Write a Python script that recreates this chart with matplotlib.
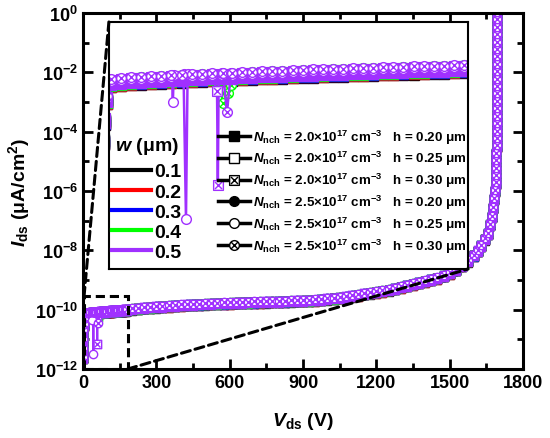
import numpy as np
import matplotlib
matplotlib.use('Agg')
import matplotlib.pyplot as plt
from matplotlib.path import Path
from matplotlib.lines import Line2D
from matplotlib.patches import Rectangle, ConnectionPatch
from matplotlib.ticker import FixedLocator, FixedFormatter, MultipleLocator, NullFormatter

plt.rcParams['font.family'] = ['Liberation Sans', 'DejaVu Sans']
plt.rcParams['font.weight'] = 'bold'
plt.rcParams['axes.labelweight'] = 'bold'
plt.rcParams['mathtext.fontset'] = 'custom'
plt.rcParams['mathtext.rm'] = 'Liberation Sans:bold'
plt.rcParams['mathtext.it'] = 'Liberation Sans:italic:bold'
plt.rcParams['mathtext.bf'] = 'Liberation Sans:bold'
plt.rcParams['mathtext.sf'] = 'Liberation Sans:bold'

# Data: common I-V curve (log10 of Ids in uA/cm^2)
v_rise = [0, 0.5, 1, 1.5, 2, 3]
logi_rise = [-11.6, -11.3, -11.0, -10.7, -10.5, -10.3]

v_low = [5, 10, 15, 20, 25, 30, 35, 40, 45, 50, 55, 60, 65, 70, 75, 80, 85, 90,
         95, 100, 105, 110, 115, 120, 125, 130, 135, 140, 145, 150, 155, 160,
         165, 170, 175, 180]
logi_low = [-10.13, -10.12, -10.11, -10.105, -10.10, -10.095, -10.09, -10.085,
            -10.08, -10.076, -10.072, -10.068, -10.064, -10.06, -10.056, -10.052,
            -10.048, -10.044, -10.04, -10.036, -10.033, -10.03, -10.027, -10.024,
            -10.021, -10.018, -10.015, -10.012, -10.009, -10.006, -10.003, -10.0,
            -9.997, -9.994, -9.991, -9.988]

v_mid = [200, 225, 250, 275, 300, 325, 350, 375, 400, 425, 450, 475, 500, 525,
         550, 575, 600, 625, 650, 675, 700, 725, 750, 775, 800, 825, 850, 875,
         900, 925, 950, 975, 1000, 1025, 1050, 1075, 1100, 1125, 1150, 1175,
         1200, 1225, 1250, 1275, 1300, 1325, 1350, 1375, 1400, 1425, 1450, 1475,
         1500, 1525, 1550, 1575, 1600]
logi_mid = [-9.96, -9.94, -9.92, -9.905, -9.89, -9.875, -9.86, -9.845, -9.83,
            -9.82, -9.81, -9.80, -9.79, -9.78, -9.77, -9.765, -9.76, -9.75, -9.74,
            -9.735, -9.73, -9.725, -9.72, -9.715, -9.71, -9.70, -9.69, -9.685,
            -9.68, -9.67, -9.66, -9.64, -9.62, -9.60, -9.58, -9.55, -9.52, -9.49,
            -9.45, -9.42, -9.39, -9.355, -9.32, -9.27, -9.22, -9.17, -9.12, -9.07,
            -9.02, -8.97, -8.92, -8.84, -8.75, -8.64, -8.50, -8.34, -8.15]

v_bd = [1615, 1630, 1645, 1655, 1665, 1672, 1678, 1683, 1686, 1688, 1689.5,
        1690.5, 1691, 1691.3, 1691.5, 1691.7, 1691.8, 1691.9, 1692, 1692,
        1692.1, 1692.1, 1692.2, 1692.2, 1692.3, 1692.3, 1692.4, 1692.4, 1692.5,
        1692.5, 1692.6, 1692.6, 1692.7]
logi_bd = [-8.0, -7.82, -7.6, -7.42, -7.12, -6.85, -6.55, -6.25, -5.98, -5.72,
           -5.47, -5.22, -4.97, -4.72, -4.47, -4.22, -3.97, -3.72, -3.47, -3.22,
           -2.97, -2.72, -2.47, -2.22, -1.97, -1.72, -1.47, -1.22, -0.97, -0.72,
           -0.47, -0.22, 0.03]

w_labels = ['0.1', '0.2', '0.3', '0.4', '0.5']
w_colors = ['#000000', '#FF0000', '#0000FF', '#00FF00', '#A030FF']
w_shift = [-0.01, -0.005, 0.0, 0.005, 0.01]

combo_labels = [
    r'$N_\mathrm{nch}$ = 2.0×10$^{17}$ cm$^{-3}$   h = 0.20 μm',
    r'$N_\mathrm{nch}$ = 2.0×10$^{17}$ cm$^{-3}$   h = 0.25 μm',
    r'$N_\mathrm{nch}$ = 2.0×10$^{17}$ cm$^{-3}$   h = 0.30 μm',
    r'$N_\mathrm{nch}$ = 2.5×10$^{17}$ cm$^{-3}$   h = 0.20 μm',
    r'$N_\mathrm{nch}$ = 2.5×10$^{17}$ cm$^{-3}$   h = 0.25 μm',
    r'$N_\mathrm{nch}$ = 2.5×10$^{17}$ cm$^{-3}$   h = 0.30 μm',
]
combo_shift = [-0.06, -0.03, -0.01, -0.04, -0.02, 0.0]

# glitches seen in the zoomed view: (combo, w index) -> (V, log10 I)
dips = {
    (4, 4): ([35.3, 35.7, 36.1, 41.0, 42.2, 43.0],
             [-10.08, -10.35, -10.08, -10.07, -11.50, -10.07]),
    (2, 4): ([57.6, 58.0, 58.4], [-10.24, -11.17, -10.08]),
    (5, 4): ([60.5, 62.5, 64.5], [-10.06, -10.44, -10.06]),
    (5, 3): ([58.5, 60.5, 63.0, 64.5, 67.0], [-10.08, -10.36, -10.26, -10.18, -10.07]),
}

# zoom window
zoom_v = (4, 182)
zoom_i = (1e-12, 2.8e-10)

v_base = np.array(v_rise + v_low + v_mid + v_bd, dtype=float)
logi_base = np.array(logi_rise + logi_low + logi_mid + logi_bd)


def marker_path(kind):
    d = 0.7071
    cross = [(-d, -d), (d, d), (-d, d), (d, -d)]
    codes_x = [Path.MOVETO, Path.LINETO, Path.MOVETO, Path.LINETO]
    if kind == 'circ':
        base = Path.unit_circle()
        return Path.make_compound_path(base, Path(cross, codes_x))
    sq = Path([(-1, -1), (1, -1), (1, 1), (-1, 1), (-1, -1)],
              [Path.MOVETO, Path.LINETO, Path.LINETO, Path.LINETO, Path.CLOSEPOLY])
    return Path.make_compound_path(sq, Path(cross, codes_x))


markers = ['s', 's', marker_path('box'), 'o', 'o', marker_path('circ')]
filled = [True, False, False, True, False, False]

fig = plt.figure(figsize=(5.5, 4.39), dpi=100)
ax = fig.add_axes([0.151, 0.157, 0.80, 0.811])
axins = fig.add_axes([0.198, 0.385, 0.653, 0.5626])


def series(ci, wi):
    v = v_base.copy()
    li = logi_base + combo_shift[ci] + w_shift[wi]
    if (ci, wi) in dips:
        dv, dl = dips[(ci, wi)]
        keep = (v < min(dv)) | (v > max(dv))
        v = np.concatenate([v[keep], dv])
        li = np.concatenate([li[keep], dl])
        order = np.argsort(v, kind='stable')
        v, li = v[order], li[order]
    return v, 10.0 ** li


for wi, col in enumerate(w_colors):
    for ci in range(6):
        v, i = series(ci, wi)
        fc = col if filled[ci] else 'white'
        ax.plot(v, i, color=col, lw=1.5, marker=markers[ci], ms=6,
                mfc=fc, mec=col, mew=1.0)
        axins.plot(v, i, color=col, lw=1.8, marker=markers[ci], ms=7,
                   mfc=fc, mec=col, mew=1.0)

# main axes styling
ax.set_yscale('log')
ax.set_xlim(0, 1800)
ax.set_ylim(1e-12, 1e0)
ax.xaxis.set_major_locator(MultipleLocator(300))
ax.xaxis.set_minor_locator(MultipleLocator(150))
yt = [1e-12, 1e-10, 1e-8, 1e-6, 1e-4, 1e-2, 1e0]
ax.yaxis.set_major_locator(FixedLocator(yt))
ax.yaxis.set_major_formatter(FixedFormatter(
    [r'$10^{-12}$', r'$10^{-10}$', r'$10^{-8}$', r'$10^{-6}$', r'$10^{-4}$',
     r'$10^{-2}$', r'$10^{0}$']))
ax.yaxis.set_minor_locator(FixedLocator([1e-11, 1e-9, 1e-7, 1e-5, 1e-3, 1e-1]))
ax.yaxis.set_minor_formatter(NullFormatter())
ax.tick_params(which='both', direction='in', top=True, right=True, width=2,
               labelsize=13)
ax.tick_params(which='major', length=7)
ax.tick_params(which='minor', length=4)
for s in ax.spines.values():
    s.set_linewidth(2.2)
ax.set_xlabel(r'$V_\mathrm{ds}$ (V)', fontsize=14, labelpad=14)
ax.set_ylabel(r'$I_\mathrm{ds}$ (μA/cm$^2$)', fontsize=14, labelpad=2)

# zoom window and connectors
ax.add_patch(Rectangle((zoom_v[0], zoom_i[0]), zoom_v[1] - zoom_v[0],
                       zoom_i[1] - zoom_i[0], fill=False, ec='black', lw=2.2,
                       ls=(0, (3, 1.6)), zorder=5))
for pa, pb in [((zoom_v[0], zoom_i[1]), (0, 1)), ((zoom_v[1], zoom_i[0]), (1, 0))]:
    con = ConnectionPatch(xyA=pa, coordsA=ax.transData, xyB=pb,
                          coordsB=axins.transAxes, color='black', lw=2.2,
                          ls=(0, (3, 1.6)), zorder=5)
    fig.add_artist(con)

# inset
axins.set_yscale('log')
axins.set_xlim(*zoom_v)
axins.set_ylim(*zoom_i)
axins.tick_params(which='both', left=False, bottom=False, labelleft=False,
                  labelbottom=False)
for s in axins.spines.values():
    s.set_linewidth(1.5)

axins.text(0.106, 0.502, r'$w$ (μm)', transform=axins.transAxes, ha='center',
           va='center', fontsize=14)
w_handles = [Line2D([], [], color=c, lw=3) for c in w_colors]
leg1 = axins.legend(w_handles, w_labels, loc='upper left',
                    bbox_to_anchor=(0.008, 0.43), frameon=False, fontsize=14,
                    handlelength=2.0, handletextpad=0.2,
                    labelspacing=0.13, borderaxespad=0, borderpad=0)
axins.add_artist(leg1)

c_handles = [Line2D([], [], color='black', lw=2.5, marker=markers[k], ms=7,
                    mfc='black' if filled[k] else 'white', mec='black', mew=1.0)
             for k in range(6)]
axins.legend(c_handles, combo_labels, loc='lower right',
             bbox_to_anchor=(0.997, 0.058), frameon=False, fontsize=9.6,
             handlelength=2.4, handletextpad=0.25, labelspacing=0.27,
             borderaxespad=0, borderpad=0)

fig.savefig('out.png', dpi=100)
